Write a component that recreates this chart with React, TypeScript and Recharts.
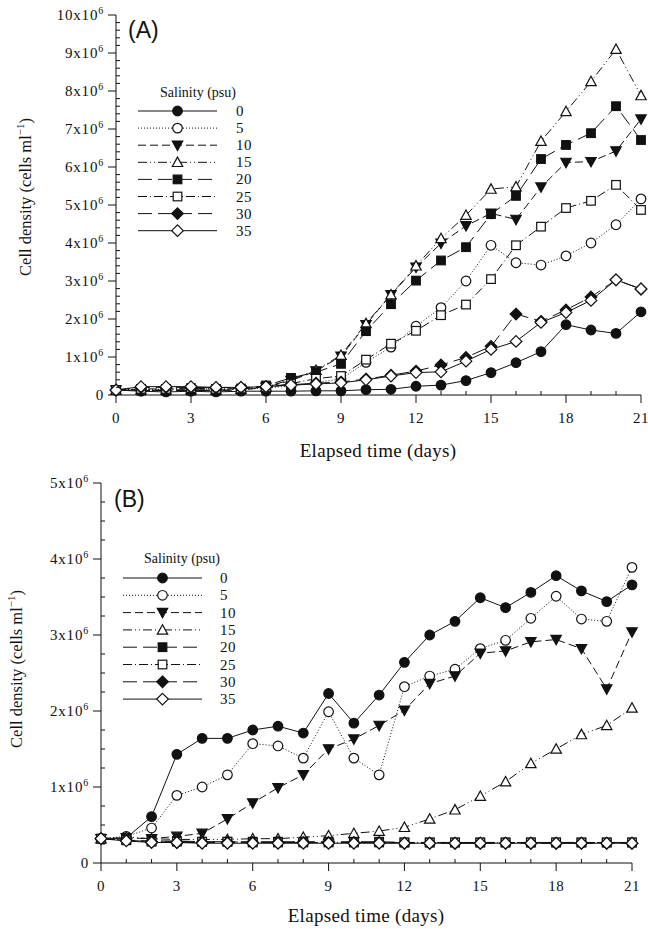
import React from "react";
import { LineChart, Line, XAxis, YAxis } from "recharts";

const DAYS = [0, 1, 2, 3, 4, 5, 6, 7, 8, 9, 10, 11, 12, 13, 14, 15, 16, 17, 18, 19, 20, 21];
const SALINITY = ["0", "5", "10", "15", "20", "25", "30", "35"];

// Panel A, cell density in 10^6 cells/ml
const a0 = [0.13, 0.1, 0.08, 0.1, 0.08, 0.1, 0.1, 0.1, 0.11, 0.11, 0.14, 0.15, 0.23, 0.26, 0.38, 0.59, 0.85, 1.14, 1.85, 1.71, 1.62, 2.19];
const a5 = [0.13, 0.15, 0.15, 0.17, 0.15, 0.16, 0.18, 0.24, 0.33, 0.42, 0.86, 1.26, 1.81, 2.3, 3.0, 3.94, 3.48, 3.42, 3.66, 4.0, 4.48, 5.16];
const a10 = [0.13, 0.12, 0.12, 0.13, 0.12, 0.13, 0.2, 0.38, 0.63, 1.02, 1.85, 2.64, 3.36, 3.99, 4.45, 4.78, 4.62, 5.47, 6.12, 6.14, 6.42, 7.26];
const a15 = [0.13, 0.14, 0.13, 0.14, 0.13, 0.15, 0.22, 0.4, 0.65, 1.05, 1.88, 2.64, 3.4, 4.12, 4.73, 5.42, 5.48, 6.68, 7.46, 8.25, 9.1, 7.88];
const a20 = [0.13, 0.12, 0.12, 0.12, 0.12, 0.14, 0.25, 0.45, 0.6, 0.82, 1.68, 2.39, 3.01, 3.54, 3.89, 4.76, 5.24, 6.21, 6.58, 6.89, 7.6, 6.71];
const a25 = [0.13, 0.16, 0.16, 0.18, 0.16, 0.17, 0.2, 0.3, 0.43, 0.5, 0.93, 1.35, 1.69, 2.1, 2.38, 3.05, 3.94, 4.43, 4.92, 5.11, 5.53, 4.87];
const a30 = [0.13, 0.2, 0.2, 0.2, 0.19, 0.2, 0.22, 0.27, 0.31, 0.34, 0.42, 0.52, 0.63, 0.79, 0.99, 1.28, 2.13, 1.94, 2.24, 2.58, 3.03, 2.79];
const a35 = [0.13, 0.22, 0.22, 0.22, 0.2, 0.2, 0.22, 0.26, 0.29, 0.32, 0.4, 0.5, 0.59, 0.61, 0.89, 1.2, 1.41, 1.91, 2.17, 2.49, 3.03, 2.79];

// Panel B
const b0 = [0.32, 0.33, 0.61, 1.43, 1.64, 1.64, 1.75, 1.8, 1.71, 2.23, 1.84, 2.21, 2.64, 3.0, 3.18, 3.49, 3.36, 3.56, 3.78, 3.58, 3.44, 3.66];
const b5 = [0.32, 0.35, 0.46, 0.89, 1.0, 1.16, 1.57, 1.54, 1.38, 1.99, 1.38, 1.16, 2.32, 2.46, 2.55, 2.82, 2.93, 3.22, 3.51, 3.21, 3.18, 3.89];
const b10 = [0.32, 0.33, 0.32, 0.35, 0.39, 0.58, 0.79, 0.99, 1.16, 1.5, 1.63, 1.81, 2.01, 2.36, 2.46, 2.76, 2.79, 2.91, 2.94, 2.82, 2.29, 3.04];
const b15 = [0.32, 0.34, 0.32, 0.31, 0.31, 0.31, 0.32, 0.32, 0.34, 0.36, 0.39, 0.42, 0.47, 0.58, 0.7, 0.88, 1.07, 1.31, 1.5, 1.69, 1.81, 2.04];
const b20 = [0.32, 0.3, 0.29, 0.29, 0.28, 0.28, 0.28, 0.28, 0.28, 0.28, 0.28, 0.28, 0.27, 0.27, 0.27, 0.27, 0.27, 0.27, 0.27, 0.27, 0.27, 0.27];
const b25 = [0.32, 0.3, 0.28, 0.28, 0.28, 0.28, 0.27, 0.27, 0.27, 0.27, 0.27, 0.27, 0.27, 0.27, 0.27, 0.27, 0.27, 0.27, 0.27, 0.27, 0.27, 0.27];
const b30 = [0.32, 0.3, 0.28, 0.27, 0.27, 0.27, 0.27, 0.27, 0.27, 0.27, 0.27, 0.27, 0.26, 0.26, 0.26, 0.26, 0.26, 0.26, 0.26, 0.26, 0.26, 0.26];
const b35 = [0.32, 0.29, 0.27, 0.27, 0.26, 0.26, 0.26, 0.26, 0.26, 0.26, 0.26, 0.26, 0.26, 0.26, 0.26, 0.26, 0.26, 0.26, 0.26, 0.26, 0.26, 0.26];

// y ticks: every 0.2 (A) / 0.25 (B), labelled on whole numbers
const A_TICKS = Array.from({ length: 51 }, (_, i) => Math.round(i * 2) / 10);
const B_TICKS = Array.from({ length: 21 }, (_, i) => i * 0.25);

const SERIES_A = [a0, a5, a10, a15, a20, a25, a30, a35];
const SERIES_B = [b0, b5, b10, b15, b20, b25, b30, b35];

const STYLES = [
  { shape: "circle", filled: true, dash: undefined },
  { shape: "circle", filled: false, dash: "1 2" },
  { shape: "tdown", filled: true, dash: "8 4" },
  { shape: "tup", filled: false, dash: "9 3 1 3 1 3" },
  { shape: "square", filled: true, dash: "14 6" },
  { shape: "square", filled: false, dash: "9 3 1 3" },
  { shape: "diamond", filled: true, dash: "14 6" },
  { shape: "diamond", filled: false, dash: undefined },
];

const SERIF = "'Liberation Serif', 'Times New Roman', serif";
const INK = "#111";

function toRows(series: number[][]) {
  return DAYS.map((d, i) => {
    const row: Record<string, number> = { day: d };
    series.forEach((s, k) => {
      row["s" + SALINITY[k]] = s[i];
    });
    return row;
  });
}

const rowsA = toRows(SERIES_A);
const rowsB = toRows(SERIES_B);

function Marker({ cx, cy, shape, filled }: { cx: number; cy: number; shape: string; filled: boolean }) {
  if (cx == null || cy == null) return null;
  const common = { fill: filled ? INK : "#fff", stroke: INK, strokeWidth: 1.2 };
  switch (shape) {
    case "circle":
      return <circle cx={cx} cy={cy} r={4.8} {...common} />;
    case "tdown":
      return <polygon points={`${cx - 5.2},${cy - 4.2} ${cx + 5.2},${cy - 4.2} ${cx},${cy + 5.2}`} {...common} />;
    case "tup":
      return <polygon points={`${cx - 5.2},${cy + 4.2} ${cx + 5.2},${cy + 4.2} ${cx},${cy - 5.2}`} {...common} />;
    case "square":
      return <rect x={cx - 4.3} y={cy - 4.3} width={8.6} height={8.6} {...common} />;
    default:
      return <polygon points={`${cx},${cy - 5.8} ${cx + 5.8},${cy} ${cx},${cy + 5.8} ${cx - 5.8},${cy}`} {...common} />;
  }
}

// tickSize/tickMargin are 0, so x/y given here sit on the axis line
function YTick({ x, y, payload }: any) {
  const v = payload.value;
  const major = Math.abs(v - Math.round(v)) < 1e-6;
  if (!major) return <line x1={x} x2={x + 4} y1={y} y2={y} stroke={INK} />;
  return (
    <g>
      <line x1={x - 8} x2={x} y1={y} y2={y} stroke={INK} />
      <text x={x - 12} y={y + 5} textAnchor="end" fontFamily={SERIF} fontSize={15} letterSpacing={0.8} fill={INK}>
        {v === 0 ? (
          "0"
        ) : (
          <>
            <tspan>{Math.round(v)}x10</tspan>
            <tspan dy={-6} fontSize={10}>6</tspan>
          </>
        )}
      </text>
    </g>
  );
}

function XTick({ x, y, payload }: any) {
  const v = payload.value;
  if (v % 3 !== 0) return <line x1={x} x2={x} y1={y} y2={y - 4} stroke={INK} />;
  return (
    <g>
      <line x1={x} x2={x} y1={y} y2={y + 8} stroke={INK} />
      <text x={x} y={y + 28} textAnchor="middle" fontFamily={SERIF} fontSize={15} letterSpacing={0.5} fill={INK}>
        {v}
      </text>
    </g>
  );
}

function Legend({ tx, ty, x1, x2, lx, y0, step }: any) {
  const mid = (x1 + x2) / 2;
  return (
    <g>
      <text x={tx} y={ty} textAnchor="middle" fontFamily={SERIF} fontSize={14} fill={INK}>
        Salinity (psu)
      </text>
      {STYLES.map((st, i) => {
        const yy = y0 + i * step;
        return (
          <g key={i}>
            <line x1={x1} x2={x2} y1={yy} y2={yy} stroke={INK} strokeWidth={1} strokeDasharray={st.dash} />
            <Marker cx={mid} cy={yy} shape={st.shape} filled={st.filled} />
            <text x={lx} y={yy + 5} fontFamily={SERIF} fontSize={15} letterSpacing={0.5} fill={INK}>
              {SALINITY[i]}
            </text>
          </g>
        );
      })}
    </g>
  );
}

function Panel({ rows, yMax, yTicks, width, height, margin, yWidth, xHeight, overlay }: any) {
  return (
    <div style={{ position: "relative", width, height }}>
      <LineChart width={width} height={height} data={rows} margin={margin}>
        <XAxis dataKey="day" type="number" domain={[0, 21]} ticks={DAYS} interval={0}
          height={xHeight} tickSize={0} tickMargin={0} tickLine={false} tick={<XTick />} stroke={INK} />
        <YAxis type="number" domain={[0, yMax]} ticks={yTicks} interval={0}
          width={yWidth} tickSize={0} tickMargin={0} tickLine={false} tick={<YTick />} stroke={INK} />
        {STYLES.map((st, k) => (
          <Line
            key={k}
            type="linear"
            dataKey={"s" + SALINITY[k]}
            stroke={INK}
            strokeWidth={1}
            strokeDasharray={st.dash}
            isAnimationActive={false}
            activeDot={false}
            dot={(p: any) => <Marker key={p.index} cx={p.cx} cy={p.cy} shape={st.shape} filled={st.filled} />}
          />
        ))}
      </LineChart>
      <svg width={width} height={height} style={{ position: "absolute", left: 0, top: 0, pointerEvents: "none" }}>
        {overlay}
      </svg>
    </div>
  );
}

function YTitle({ x, y }: { x: number; y: number }) {
  return (
    <text transform={`translate(${x},${y}) rotate(-90)`} textAnchor="middle" fontFamily={SERIF} fontSize={16.5} fill={INK}>
      Cell density (cells ml
      <tspan dy={-7} fontSize={11}>−1</tspan>
      <tspan dy={7}>)</tspan>
    </text>
  );
}

export default function App() {
  return (
    <div style={{ position: "absolute", left: 0, top: 0, width: 648, height: 929, background: "#fff" }}>
      <Panel
        rows={rowsA}
        yMax={10}
        yTicks={A_TICKS}
        width={648}
        height={465}
        margin={{ top: 15, right: 7, bottom: 0, left: 0 }}
        yWidth={116}
        xHeight={70}
        overlay={
          <g>
            <text x={128} y={38} fontFamily="'Liberation Sans', Arial, sans-serif" fontSize={23} fill={INK}>(A)</text>
            <Legend tx={198} ty={97} x1={138} x2={217} lx={236} y0={111} step={17.1} />
            <YTitle x={31} y={197} />
            <text x={378} y={457} textAnchor="middle" fontFamily={SERIF} fontSize={19} letterSpacing={0.3} fill={INK}>Elapsed time (days)</text>
          </g>
        }
      />
      <Panel
        rows={rowsB}
        yMax={5}
        yTicks={B_TICKS}
        width={648}
        height={464}
        margin={{ top: 18, right: 16, bottom: 0, left: 0 }}
        yWidth={101}
        xHeight={66}
        overlay={
          <g>
            <text x={114} y={42} fontFamily="'Liberation Sans', Arial, sans-serif" fontSize={23} fill={INK}>(B)</text>
            <Legend tx={182} ty={98} x1={123} x2={202} lx={220} y0={113} step={17.3} />
            <YTitle x={22} y={204} />
            <text x={366} y={457} textAnchor="middle" fontFamily={SERIF} fontSize={19} letterSpacing={0.3} fill={INK}>Elapsed time (days)</text>
          </g>
        }
      />
    </div>
  );
}
